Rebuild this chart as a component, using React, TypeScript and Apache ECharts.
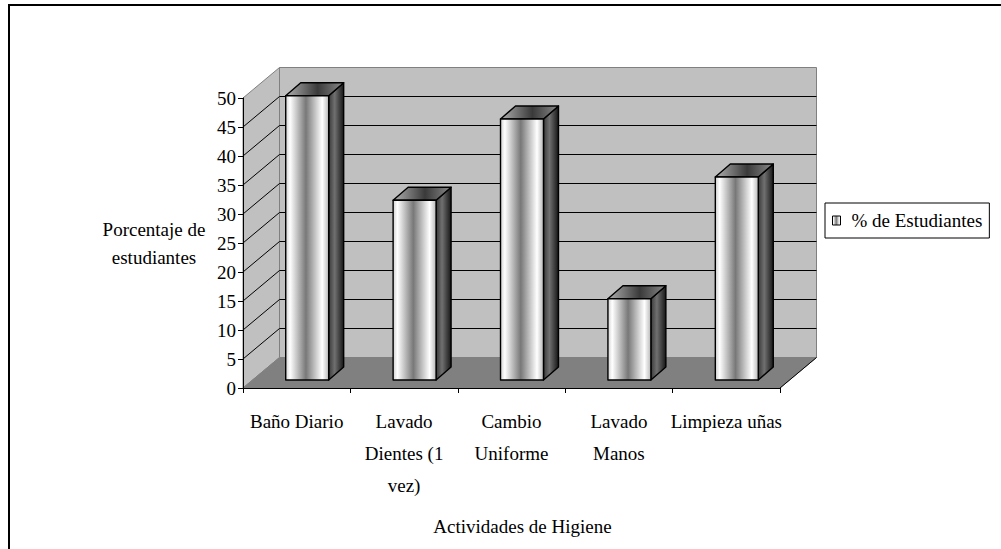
import React, { useEffect, useRef } from "react";
import * as echarts from "echarts";

// ---- data ----
const categories = ["Baño Diario", "Lavado Dientes (1 vez)", "Cambio Uniforme", "Lavado Manos", "Limpieza uñas"];
const categoryLines = ["Baño Diario", "Lavado\nDientes (1\nvez)", "Cambio\nUniforme", "Lavado\nManos", "Limpieza uñas"];
const values = [49, 31, 45, 14, 35];
const seriesName = "% de Estudiantes";
const yMin = 0;
const yMax = 50;
const yInterval = 5;
const yAxisTitle = "Porcentaje de\nestudiantes";
const xAxisTitle = "Actividades de Higiene";

// ---- 3D projection constants (pixels) ----
const DX = 36.5;
const DY = -30.5;
const FX = 10.5; // bar front face offset
const FY = -8;
const BX = 25.5; // bar back face offset
const BY = -21;
const FONT = "'Liberation Serif', 'Times New Roman', serif";

const frontGrad = () =>
  new echarts.graphic.LinearGradient(0, 0, 1, 0, [
    { offset: 0, color: "#d0d0d0" },
    { offset: 0.1, color: "#ffffff" },
    { offset: 0.47, color: "#787878" },
    { offset: 0.85, color: "#ffffff" },
    { offset: 1, color: "#b8b8b8" },
  ]);
const sideGrad = () =>
  new echarts.graphic.LinearGradient(0, 0, 1, 0, [
    { offset: 0, color: "#3a3a3a" },
    { offset: 0.4, color: "#707070" },
    { offset: 1, color: "#161616" },
  ]);
const topGrad = () =>
  new echarts.graphic.LinearGradient(0, 0, 1, 0, [
    { offset: 0, color: "#b0b0b0" },
    { offset: 0.55, color: "#3a3a3a" },
    { offset: 1, color: "#8a8a8a" },
  ]);

export default function App() {
  const ref = useRef<HTMLDivElement>(null);
  useEffect(() => {
    if (!ref.current) return;
    const chart = echarts.init(ref.current, undefined, { renderer: "svg" });
    const gridValues: number[] = [];
    for (let v = yMin + yInterval; v < yMax; v += yInterval) gridValues.push(v);

    chart.setOption({
      animation: false,
      backgroundColor: "#ffffff",
      grid: { left: 243, right: 221, top: 98, bottom: 161, containLabel: false },
      legend: {
        data: [
          {
            name: seriesName,
            icon: "rect",
            itemStyle: { color: frontGrad(), borderColor: "#000", borderWidth: 1 },
          },
        ],
        left: 825,
        top: 203,
        orient: "vertical",
        itemWidth: 8,
        itemHeight: 9,
        padding: [8, 7, 8, 7],
        borderColor: "#000",
        borderWidth: 1,
        backgroundColor: "#fff",
        selectedMode: false,
        textStyle: { fontFamily: FONT, fontSize: 19, color: "#000", padding: [0, 0, 0, 6] },
      },
      graphic: [
        { type: "line", shape: { x1: 9, y1: 5, x2: 1001, y2: 5 }, style: { stroke: "#000", lineWidth: 2 } },
        { type: "line", shape: { x1: 9, y1: 4, x2: 9, y2: 549 }, style: { stroke: "#000", lineWidth: 2 } },
      ],
      xAxis: {
        type: "category",
        data: categories,
        z: 5,
        axisLine: { show: true, lineStyle: { color: "#000", width: 1 } },
        axisTick: { show: true, length: 5, lineStyle: { color: "#000" } },
        axisLabel: {
          interval: 0,
          formatter: (_v: string, i: number) => categoryLines[i],
          fontFamily: FONT,
          fontSize: 19,
          color: "#000",
          lineHeight: 32,
          margin: 17,
        },
        splitLine: { show: false },
        name: xAxisTitle,
        nameLocation: "middle",
        nameGap: 128,
        nameTextStyle: { fontFamily: FONT, fontSize: 19, color: "#000", lineHeight: 20, padding: [0, 0, 0, 22] },
      },
      yAxis: {
        type: "value",
        min: yMin,
        max: yMax,
        interval: yInterval,
        z: 5,
        axisLine: { show: true, lineStyle: { color: "#000", width: 1 } },
        axisTick: { show: true, length: 5, lineStyle: { color: "#000" } },
        axisLabel: { fontFamily: FONT, fontSize: 19, color: "#000", margin: 7 },
        splitLine: { show: false },
        name: yAxisTitle,
        nameLocation: "middle",
        nameRotate: 0,
        nameGap: 89,
        nameTextStyle: {
          fontFamily: FONT,
          fontSize: 19,
          color: "#000",
          lineHeight: 28,
          align: "center",
          padding: [8, 0, 0, 0],
        },
      },
      series: [
        {
          type: "custom",
          name: "walls",
          z: 1,
          silent: true,
          data: [[0, 0]],
          encode: { x: 0, y: 1 },
          renderItem: (params: any, api: any) => {
            const cs = params.coordSys;
            const x0 = cs.x;
            const x1 = cs.x + cs.width;
            const yT = cs.y;
            const yB = cs.y + cs.height;
            const children: any[] = [];
            children.push({
              type: "polygon",
              shape: { points: [[x0, yB], [x0, yT], [x0 + DX, yT + DY], [x0 + DX, yB + DY]] },
              style: { fill: "#c0c0c0", stroke: "#808080", lineWidth: 1 },
            });
            children.push({
              type: "polygon",
              shape: { points: [[x0, yB], [x1, yB], [x1 + DX, yB + DY], [x0 + DX, yB + DY]] },
              style: { fill: "#808080", stroke: "#808080", lineWidth: 1 },
            });
            children.push({
              type: "rect",
              shape: { x: x0 + DX, y: yT + DY, width: cs.width, height: cs.height },
              style: { fill: "#c0c0c0", stroke: "#808080", lineWidth: 1 },
            });
            gridValues.forEach((v) => {
              const y = api.coord([0, v])[1];
              children.push({
                type: "line",
                shape: { x1: x0 + DX, y1: y + DY, x2: x1 + DX, y2: y + DY },
                style: { stroke: "#000", lineWidth: 1 },
              });
              children.push({
                type: "line",
                shape: { x1: x0, y1: y, x2: x0 + DX, y2: y + DY },
                style: { stroke: "#000", lineWidth: 1 },
              });
            });
            children.push({
              type: "line",
              shape: { x1: x1, y1: yB, x2: x1 + DX, y2: yB + DY },
              style: { stroke: "#000", lineWidth: 1 },
            });
            return { type: "group", children };
          },
        },
        {
          type: "custom",
          name: seriesName,
          z: 3,
          data: values.map((v, i) => [i, v]),
          encode: { x: 0, y: 1 },
          itemStyle: { color: "#a0a0a0" },
          renderItem: (_params: any, api: any) => {
            const idx = api.value(0);
            const val = api.value(1);
            const base = api.coord([idx, 0]);
            const top = api.coord([idx, val]);
            const bw = api.size([1, 0])[0] * 0.4;
            const xL = base[0] - bw / 2 + FX;
            const xR = base[0] + bw / 2 + FX;
            const yT = top[1] + FY;
            const yB = base[1] + FY;
            const ddx = BX - FX;
            const ddy = BY - FY;
            const stroke = { stroke: "#000", lineWidth: 1.4, lineJoin: "round" };
            return {
              type: "group",
              children: [
                {
                  type: "polygon",
                  shape: { points: [[xR, yT], [xR + ddx, yT + ddy], [xR + ddx, yB + ddy], [xR, yB]] },
                  style: { fill: sideGrad(), ...stroke },
                },
                {
                  type: "polygon",
                  shape: { points: [[xL, yT], [xR, yT], [xR + ddx, yT + ddy], [xL + ddx, yT + ddy]] },
                  style: { fill: topGrad(), ...stroke },
                },
                {
                  type: "rect",
                  shape: { x: xL, y: yT, width: xR - xL, height: yB - yT },
                  style: { fill: frontGrad(), ...stroke },
                },
              ],
            };
          },
        },
      ],
    });
    return () => chart.dispose();
  }, []);
  return (
    <div
      ref={ref}
      style={{ position: "absolute", left: 0, top: 0, width: 1001, height: 549, background: "#fff" }}
    />
  );
}
